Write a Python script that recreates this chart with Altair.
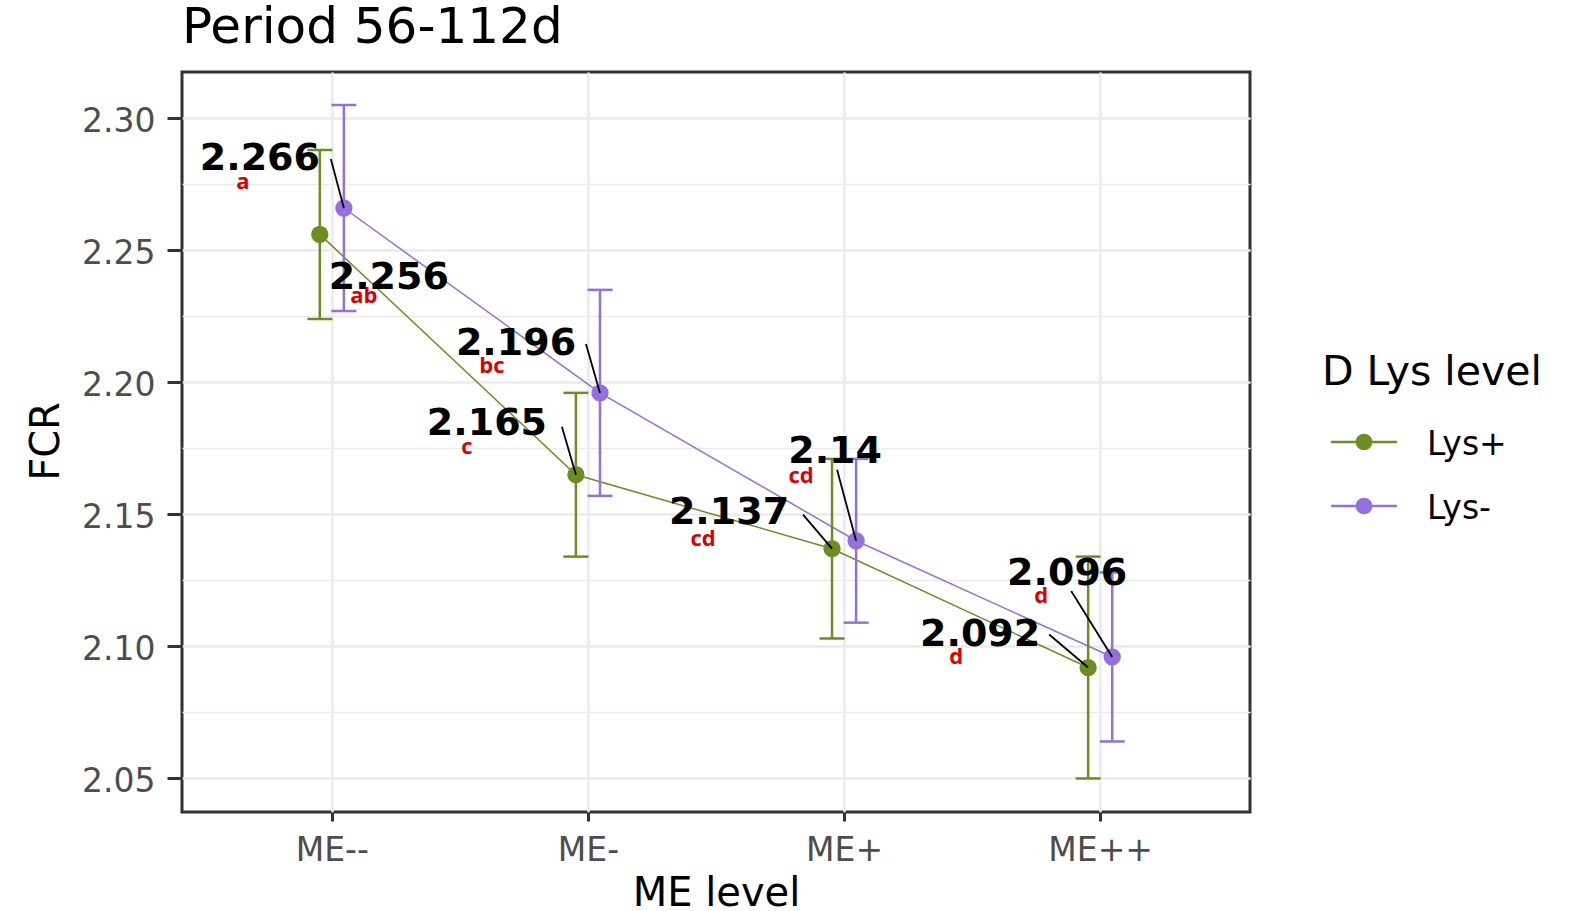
import json

import altair as alt
import pandas as pd

# ---------------------------------------------------------------- data
levels = ["ME--", "ME-", "ME+", "ME++"]
groups = ["Lys+", "Lys-"]
group_colors = ["#6B8E23", "#9370DB"]

fcr_lys_plus = [2.256, 2.165, 2.137, 2.092]
fcr_lys_minus = [2.266, 2.196, 2.140, 2.096]
se_lys_plus = [0.032, 0.031, 0.034, 0.042]
se_lys_minus = [0.039, 0.039, 0.031, 0.032]
letters_lys_plus = ["ab", "c", "cd", "d"]
letters_lys_minus = ["a", "bc", "cd", "d"]

y_major = [2.05, 2.10, 2.15, 2.20, 2.25, 2.30]
y_minor = [2.075, 2.125, 2.175, 2.225, 2.275]

chart_title = "Period 56-112d"
legend_title = "D Lys level"

# ------------------------------------------- repel-style label placement
# (dx, dy) in pixels: value label (centre / baseline) relative to its point
label_nudge = {
    "Lys+": [(69, 55), (-89, -40), (-103, -25), (-108, -22)],
    "Lys-": [(-84, -38), (-84, -38), (-21, -78), (-45, -72)],
}
# start of the leader segment relative to the value label
segment_start = {
    "Lys+": [None, (75, -8), (74, -9), (69, -11)],
    "Lys-": [(71, -11), (70, -11), (2, 7), (4, 6)],
}
# significance letter relative to the value label
letter_nudge = {
    "Lys+": [(-25, 14), (-20, 19), (-26, 22), (-24, 18)],
    "Lys-": [(-17, 19), (-24, 18), (-34, 20), (-26, 18)],
}

# -------------------------------------------------------------- layout
PLOT_W, PLOT_H = 1068, 740
X_DOMAIN = [0.415, 4.585]
Y_DOMAIN = [2.0373, 2.3175]
DODGE = 0.047
px_x = PLOT_W / (X_DOMAIN[1] - X_DOMAIN[0])
px_y = PLOT_H / (Y_DOMAIN[1] - Y_DOMAIN[0])

# key box to the right of the panel (pixels from the panel's top-left corner)
KEY_LEFT = 1140
KEY_TITLE_BASELINE = 313
KEY_ROW0 = 370
KEY_STEP = 64
KEY_LINE = (9, 75)
KEY_LABEL_X = 105

series = {
    "Lys+": (fcr_lys_plus, se_lys_plus, letters_lys_plus, -DODGE),
    "Lys-": (fcr_lys_minus, se_lys_minus, letters_lys_minus, DODGE),
}

rows, seg_rows = [], []
for g in groups:
    fcr, se, letters, shift = series[g]
    for i, lvl in enumerate(levels):
        x = i + 1 + shift
        dx, dy = label_nudge[g][i]
        lab_x = x + dx / px_x
        lab_y = fcr[i] - dy / px_y
        lx, ly = letter_nudge[g][i]
        rows.append({
            "group": g,
            "level": lvl,
            "x": x,
            "fcr": fcr[i],
            "lower": fcr[i] - se[i],
            "upper": fcr[i] + se[i],
            "text": f"{fcr[i]:g}",
            "lab_x": lab_x,
            "lab_y": lab_y,
            "let_x": lab_x + lx / px_x,
            "let_y": lab_y - ly / px_y,
            "letter": letters[i],
        })
        seg = segment_start[g][i]
        if seg:
            seg_rows.append({
                "x": x,
                "fcr": fcr[i],
                "seg_x": lab_x + seg[0] / px_x,
                "seg_y": lab_y - seg[1] / px_y,
            })
df = pd.DataFrame(rows)
seg_df = pd.DataFrame(seg_rows)

# -------------------------------------------------------------- scales/axes
x_scale = alt.Scale(domain=X_DOMAIN, nice=False, zero=False)
y_scale = alt.Scale(domain=Y_DOMAIN, nice=False, zero=False)
color_scale = alt.Scale(domain=groups, range=group_colors)

minor_codes = [round(v * 1000) for v in y_minor]
minor_test = f"indexof({json.dumps(minor_codes)}, round(datum.value * 1000)) >= 0"

x_axis = alt.Axis(
    values=[1, 2, 3, 4],
    labelExpr=f"{json.dumps(levels)}[datum.value - 1]",
    grid=True,
    gridWidth=2.5,
    tickSize=9,
    tickWidth=3,
    labelPadding=13,
    titleY=93,
    titleBaseline="alphabetic",
)
y_axis = alt.Axis(
    values=sorted(y_major + y_minor),
    labelExpr=f"{minor_test} ? '' : format(datum.value, '.2f')",
    grid=True,
    gridWidth={"condition": {"test": minor_test, "value": 1.5}, "value": 2.5},
    tickColor={"condition": {"test": minor_test, "value": "transparent"}, "value": "#333333"},
    tickSize=15,
    tickWidth=3,
    labelPadding=12,
    labelOffset=3,
    titleX=-124,
    titleY=369,
    titleAngle=270,
    titleAlign="center",
    titleBaseline="alphabetic",
)


def X(field):
    return alt.X(f"{field}:Q", scale=x_scale, axis=x_axis, title="ME level")


def Y(field):
    return alt.Y(f"{field}:Q", scale=y_scale, axis=y_axis, title="FCR")


def group_color():
    return alt.Color("group:N", scale=color_scale, legend=None)


base = alt.Chart(df)

lines = base.mark_line(strokeWidth=1.5).encode(
    x=X("x"), y=Y("fcr"), color=group_color(),
)

bars = base.mark_rule(strokeWidth=2.5).encode(
    x=X("x"), y=Y("lower"), y2="upper", color=group_color(),
)

caps_hi = base.mark_tick(orient="horizontal", size=25, thickness=2.5, opacity=1).encode(
    x=X("x"), y=Y("upper"), color=group_color(),
)
caps_lo = base.mark_tick(orient="horizontal", size=25, thickness=2.5, opacity=1).encode(
    x=X("x"), y=Y("lower"), color=group_color(),
)

points = base.mark_circle(size=300, opacity=1).encode(
    x=X("x"), y=Y("fcr"), color=group_color(),
)

segments = alt.Chart(seg_df).mark_rule(color="black", strokeWidth=1.8).encode(
    x=X("seg_x"), x2="x", y=Y("seg_y"), y2="fcr",
)

labels = base.mark_text(
    font="DejaVu Sans", fontWeight="bold", fontSize=38, color="black",
    align="center", baseline="alphabetic",
).encode(x=X("lab_x"), y=Y("lab_y"), text="text:N")

letters = base.mark_text(
    font="Open Sans", fontWeight="bold", fontSize=22, color="#DD0000",
    align="center", baseline="alphabetic",
).encode(x=X("let_x"), y=Y("let_y"), text="letter:N")

# ---------------------------------------------------------- title and key
one_row = alt.Chart(pd.DataFrame({"k": [0]}))

title_mark = one_row.mark_text(
    text=chart_title, font="DejaVu Sans", fontSize=50, color="black",
    align="left", baseline="alphabetic",
).encode(x=alt.value(0), y=alt.value(-29))

key_layers = [
    one_row.mark_text(
        text=legend_title, font="DejaVu Sans", fontSize=41, color="black",
        align="left", baseline="alphabetic",
    ).encode(x=alt.value(KEY_LEFT), y=alt.value(KEY_TITLE_BASELINE))
]
for k, (g, col) in enumerate(zip(groups, group_colors)):
    row_y = KEY_ROW0 + k * KEY_STEP
    key_layers += [
        one_row.mark_rule(color=col, strokeWidth=2.5).encode(
            x=alt.value(KEY_LEFT + KEY_LINE[0]),
            x2=alt.value(KEY_LEFT + KEY_LINE[1]),
            y=alt.value(row_y),
        ),
        one_row.mark_circle(color=col, size=280, opacity=1).encode(
            x=alt.value(KEY_LEFT + (KEY_LINE[0] + KEY_LINE[1]) / 2),
            y=alt.value(row_y),
        ),
        one_row.mark_text(
            text=g, font="DejaVu Sans", fontSize=33, color="black",
            align="left", baseline="middle",
        ).encode(x=alt.value(KEY_LEFT + KEY_LABEL_X), y=alt.value(row_y + 3)),
    ]

chart = (
    alt.layer(
        lines, bars, caps_hi, caps_lo, points, segments, labels, letters,
        title_mark, *key_layers,
    )
    .properties(
        width=PLOT_W,
        height=PLOT_H,
        autosize=alt.AutoSizeParams(type="none"),
        padding={"left": 182, "top": 72, "right": 322, "bottom": 99},
        background="white",
    )
    .configure_view(stroke="#333333", strokeWidth=3)
    .configure_axis(
        domain=False,
        gridColor="#EBEBEB",
        tickColor="#333333",
        labelFont="DejaVu Sans",
        labelFontSize=33,
        labelColor="#4D4D4D",
        titleFont="DejaVu Sans",
        titleFontSize=40,
        titleFontWeight="normal",
        titleColor="black",
    )
)

chart.save("out.html", embed_options={"renderer": "svg", "actions": False})
